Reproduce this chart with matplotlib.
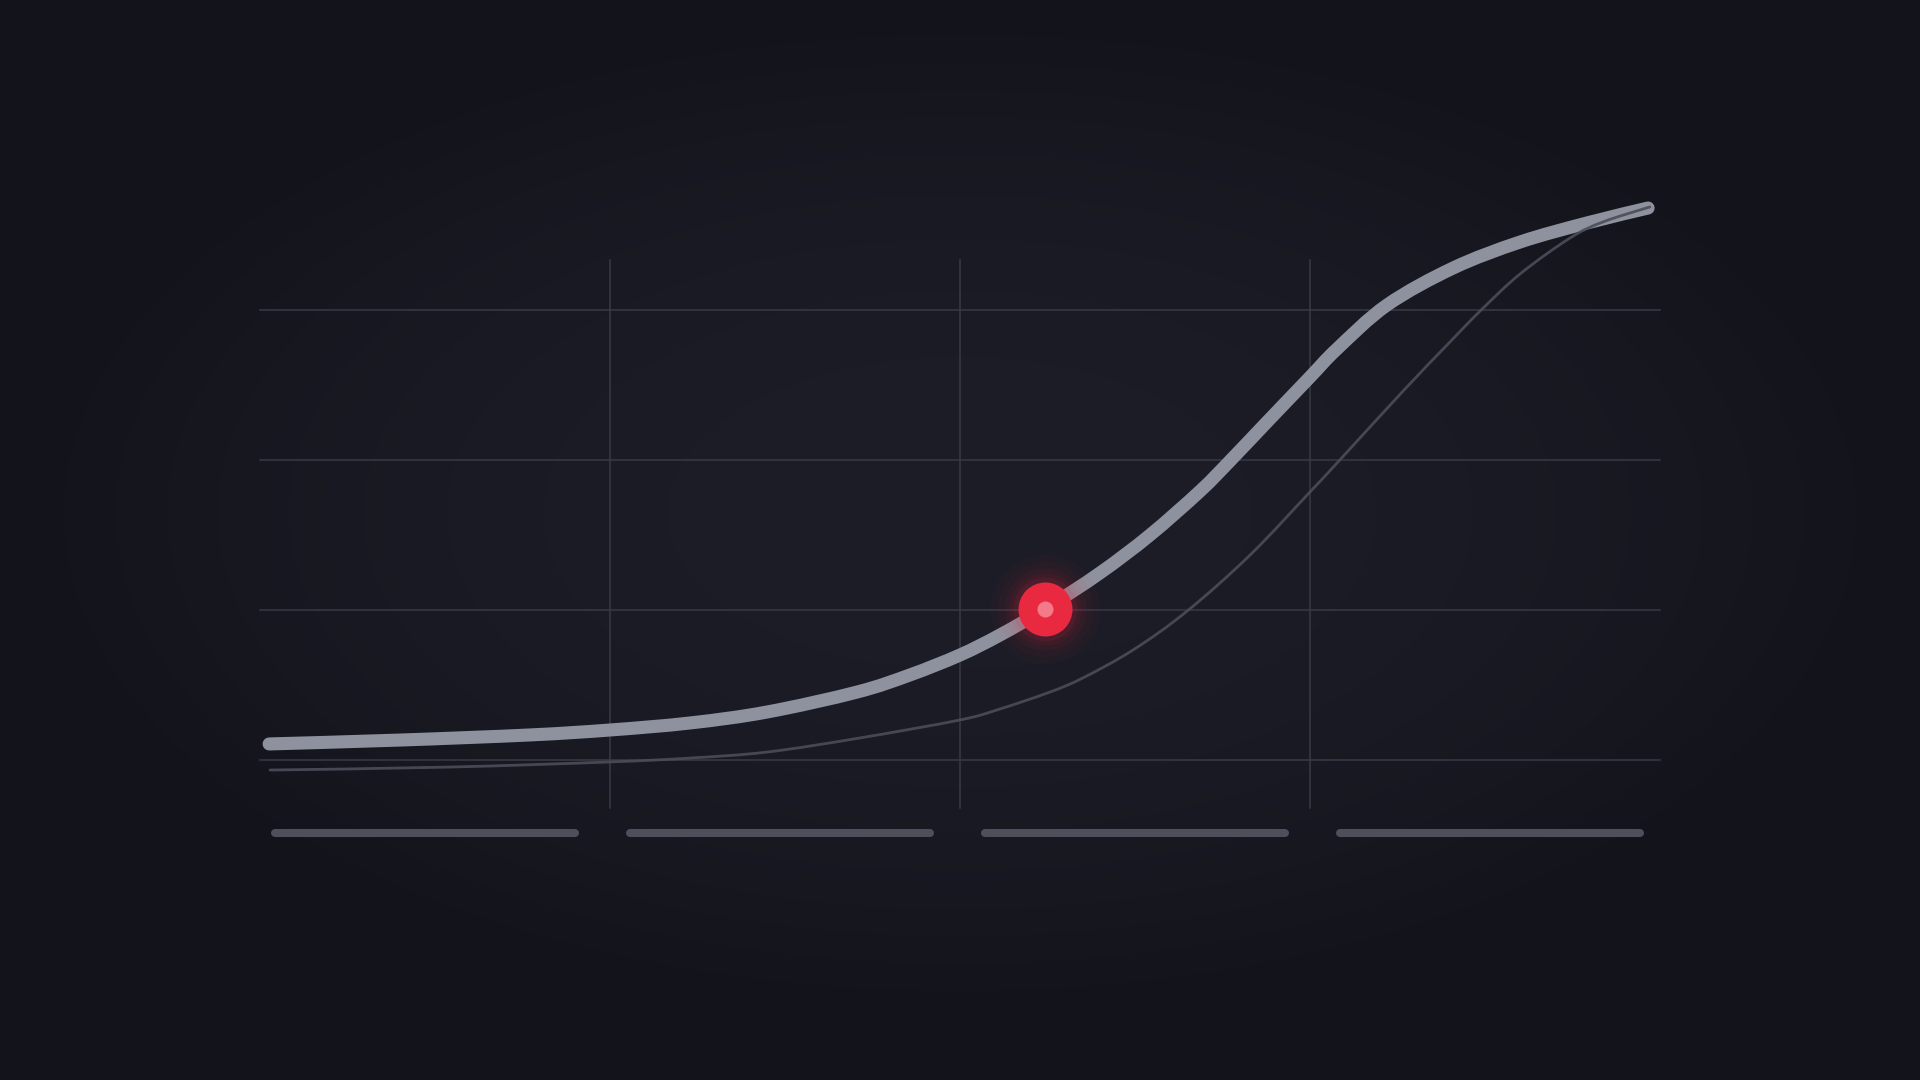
import matplotlib
matplotlib.use("Agg")
import matplotlib.pyplot as plt
from matplotlib.path import Path
from matplotlib.patches import PathPatch
import numpy as np

# main curve (thick)
main_x = [0.026, 0.4, 0.771, 1.0, 1.229, 1.449, 1.706, 1.857, 2.0, 2.114, 2.243, 2.4, 2.543,
          2.686, 2.771, 2.877, 3.0, 3.077, 3.22, 3.409, 3.6, 3.791, 3.966]
main_y = [0.107, 0.133, 0.167, 0.2, 0.247, 0.32, 0.453, 0.567, 0.7, 0.833, 1.007, 1.247, 1.5,
          1.793, 1.993, 2.253, 2.553, 2.74, 3.033, 3.28, 3.453, 3.58, 3.68]

# previous curve (thin)
prev_x = [0.029, 0.543, 1.0, 1.229, 1.449, 1.714, 2.0, 2.114, 2.257, 2.351, 2.494, 2.649,
          2.829, 3.0, 3.08, 3.266, 3.4, 3.486, 3.6, 3.743, 3.837, 3.971]
prev_y = [-0.067, -0.047, -0.013, 0.013, 0.053, 0.147, 0.267, 0.34, 0.453, 0.547, 0.733, 0.993,
          1.367, 1.787, 1.987, 2.46, 2.787, 2.993, 3.24, 3.48, 3.587, 3.687]

# highlighted point
dot_x = 2.243
dot_y = 1.007

# gridlines
col_lines = [1, 2, 3]
row_lines = [0, 1, 2, 3]

# placeholder label bars under each column
bar_start = [0.043, 1.057, 2.071, 3.086]
bar_len = 0.857

bg_edge = np.array([0x13, 0x14, 0x1b]) / 255
bg_mid = np.array([0x1c, 0x1d, 0x27]) / 255


def smooth_path(xs, ys):
    # catmull-rom through the read points, handed to matplotlib as bezier segments
    p = np.column_stack([xs, ys])
    p = np.vstack([p[0], p, p[-1]])
    verts = [p[1]]
    codes = [Path.MOVETO]
    for i in range(1, len(p) - 2):
        c1 = p[i] + (p[i + 1] - p[i - 1]) / 6
        c2 = p[i + 1] - (p[i + 2] - p[i]) / 6
        verts += [c1, c2, p[i + 1]]
        codes += [Path.CURVE4] * 3
    return Path(verts, codes)


fig = plt.figure(figsize=(19.2, 10.8), dpi=100)
ax = fig.add_axes([0, 0, 1, 1])
ax.set_xlim(-260 / 350, 1660 / 350)
ax.set_ylim(-320 / 150, 760 / 150)
ax.axis("off")

# vignette background
gx, gy = np.meshgrid(np.linspace(-1, 1, 480), np.linspace(-1, 1, 270))
r = np.clip(np.sqrt(gx ** 2 + ((gy + 0.05) / 0.95) ** 2), 0, 1)
t = (1 - r ** 2) ** 1.2
img = bg_edge[None, None, :] + (bg_mid - bg_edge)[None, None, :] * t[..., None]
ax.imshow(img, extent=ax.get_xlim() + ax.get_ylim(), aspect="auto", zorder=0, interpolation="bicubic")

grid_c = "#383a46"
for c in col_lines:
    ax.plot([c, c], [-0.32, 3.333], color=grid_c, lw=1.1, zorder=1)
for rr in row_lines:
    ax.plot([0, 4], [rr, rr], color=grid_c, lw=1.1, zorder=1)

for b in bar_start:
    ax.plot([b, b + bar_len], [-0.487, -0.487], color="#4d4f5b", lw=5.8,
            solid_capstyle="round", zorder=1)

ax.add_patch(PathPatch(smooth_path(main_x, main_y), fill=False, edgecolor="#8e929e",
                       lw=9.4, capstyle="round", joinstyle="round", zorder=3))
ax.add_patch(PathPatch(smooth_path(prev_x, prev_y), fill=False, edgecolor="#4b4d59",
                       lw=2.0, alpha=0.9, capstyle="round", joinstyle="round", zorder=4))

# glow around dot
for d, a in [(110, 0.03), (95, 0.04), (82, 0.05), (72, 0.07), (64, 0.09)]:
    ax.scatter([dot_x], [dot_y], s=(d * 0.72) ** 2, color="#e8283f", alpha=a,
               linewidths=0, zorder=5)
ax.scatter([dot_x], [dot_y], s=(54 * 0.72) ** 2, color="#e9293f", linewidths=0, zorder=6)
ax.scatter([dot_x], [dot_y], s=(16 * 0.72) ** 2, color="#f47a89", linewidths=0, zorder=7)

fig.savefig("out.png", dpi=100, facecolor=bg_edge)
